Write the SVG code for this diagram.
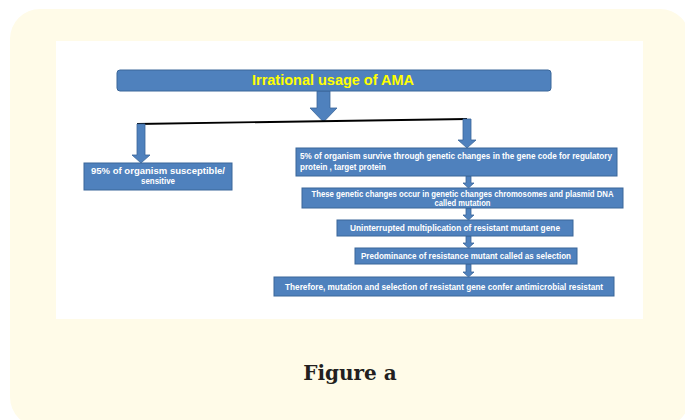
<svg xmlns="http://www.w3.org/2000/svg" width="685" height="420" viewBox="0 0 685 420">
<defs>
<style>
.box{fill:#4f81bd;stroke:#3a6699;stroke-width:1}
.arr{fill:#4f81bd;stroke:#3a6699;stroke-width:0.8}
.t{font-family:"Liberation Sans",Arial,sans-serif;font-size:8.4px;font-weight:bold;fill:#ffffff}
.tc{text-anchor:middle}
</style>
</defs>
<rect x="10" y="9" width="680" height="418" rx="30" fill="#fffbe8"/>
<rect x="56" y="41" width="587" height="278" fill="#ffffff"/>
<g id="connectors">
<polygon class="arr" points="317,91 330,91 330,108 337,108 323.5,122 310,108 317,108"/>
<line x1="137" y1="124" x2="467" y2="119" stroke="#000" stroke-width="1.8"/>
<polygon class="arr" points="137,124 145,124 145,155 150,155 141,163 132,155 137,155"/>
<polygon class="arr" points="463,119 471,119 471,140 476,140 467,148 458,140 463,140"/>
<polygon class="arr" points="466,176 471,176 471,183 474,183 468.5,188 463,183 466,183"/>
<polygon class="arr" points="466,208 471,208 471,215 474,215 468.5,220 463,215 466,215"/>
<polygon class="arr" points="466,236 471,236 471,243 474,243 468.5,248 463,243 466,243"/>
<polygon class="arr" points="466,264 471,264 471,272 474,272 468.5,277 463,272 466,272"/>
</g>
<g id="n-title">
<rect class="box" x="117" y="70" width="434" height="21" rx="3"/>
<text x="333" y="85" text-anchor="middle" font-family="Liberation Sans,Arial,sans-serif" font-size="14" font-weight="bold" fill="#ffff00" textLength="162" lengthAdjust="spacingAndGlyphs">Irrational usage of AMA</text>
</g>
<g id="n-susceptible">
<rect class="box" x="84" y="163" width="148" height="27"/>
<text class="t tc" x="158" y="174" textLength="134" lengthAdjust="spacingAndGlyphs">95% of organism susceptible/</text>
<text class="t tc" x="158" y="184" textLength="34" lengthAdjust="spacingAndGlyphs">sensitive</text>
</g>
<g id="n-survive">
<rect class="box" x="296" y="148" width="321" height="28"/>
<text class="t" x="300" y="159" textLength="312" lengthAdjust="spacingAndGlyphs">5% of organism survive through genetic changes in the gene code for regulatory</text>
<text class="t" x="300" y="170" textLength="86" lengthAdjust="spacingAndGlyphs">protein , target protein</text>
</g>
<g id="n-mutation">
<rect class="box" x="302" y="188" width="321" height="20"/>
<text class="t tc" x="462.5" y="196.5" textLength="302" lengthAdjust="spacingAndGlyphs">These genetic changes occur in genetic changes chromosomes and plasmid DNA</text>
<text class="t tc" x="462.5" y="205.5" textLength="56" lengthAdjust="spacingAndGlyphs">called mutation</text>
</g>
<g id="n-multiplication">
<rect class="box" x="337" y="220" width="236" height="16"/>
<text class="t tc" x="455" y="231" textLength="210" lengthAdjust="spacingAndGlyphs">Uninterrupted multiplication of resistant mutant gene</text>
</g>
<g id="n-selection">
<rect class="box" x="355" y="248" width="222" height="16"/>
<text class="t tc" x="466" y="259" textLength="210" lengthAdjust="spacingAndGlyphs">Predominance of resistance mutant called as selection</text>
</g>
<g id="n-conclusion">
<rect class="box" x="274" y="277" width="340" height="19"/>
<text class="t tc" x="444" y="289.5" textLength="318" lengthAdjust="spacingAndGlyphs">Therefore, mutation and selection of resistant gene confer antimicrobial resistant</text>
</g>
<text x="350" y="380" text-anchor="middle" font-family="DejaVu Serif,serif" font-size="20" font-weight="bold" fill="#231f20">Figure a</text>
</svg>
